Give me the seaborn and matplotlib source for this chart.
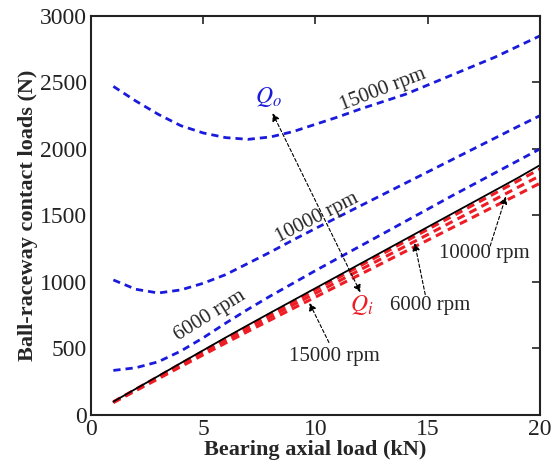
import matplotlib
matplotlib.use("Agg")
import matplotlib.pyplot as plt
import seaborn as sns
import pandas as pd

# ---- data ----
axial_load_kN = [1, 2, 3, 4, 5, 6, 7, 8, 9, 10, 11, 12, 13, 14, 15, 16, 17, 18, 19, 20]

qo_6000 = [335, 355, 400, 480, 580, 690, 795, 895, 990, 1085, 1178, 1270, 1362, 1455, 1547, 1640, 1730, 1820, 1910, 2000]
qo_10000 = [1015, 945, 917, 940, 990, 1055, 1140, 1225, 1315, 1402, 1487, 1572, 1657, 1742, 1827, 1912, 1997, 2082, 2167, 2250]
qo_15000 = [2470, 2360, 2260, 2175, 2120, 2085, 2072, 2090, 2130, 2185, 2240, 2300, 2355, 2410, 2480, 2550, 2620, 2690, 2770, 2850]

q_static = [100, 197, 293, 390, 486, 582, 676, 769, 861, 953, 1045, 1137, 1229, 1321, 1413, 1505, 1597, 1689, 1781, 1878]

qi_15000 = [99, 194, 289, 385, 480, 574, 667, 759, 850, 941, 1031, 1122, 1213, 1304, 1395, 1485, 1576, 1667, 1758, 1849]
qi_6000 = [96, 189, 281, 374, 467, 559, 649, 738, 827, 915, 1003, 1092, 1180, 1268, 1356, 1445, 1533, 1621, 1710, 1798]
qi_10000 = [93, 183, 272, 363, 452, 541, 629, 715, 801, 886, 972, 1057, 1143, 1229, 1314, 1400, 1485, 1571, 1656, 1742]

x_ticks = [0, 5, 10, 15, 20]
y_ticks = [0, 500, 1000, 1500, 2000, 2500, 3000]

# ---- style ----
sns.set_theme(style="white")
plt.rcParams['font.family'] = ['Liberation Serif', 'DejaVu Serif']
plt.rcParams['mathtext.fontset'] = 'stix'

fig = plt.figure(figsize=(5.51, 4.63), dpi=100)
ax = fig.add_axes([0.165, 0.1037, 0.815, 0.862])

df = pd.DataFrame({"x": axial_load_kN})
blue = "#1a1adc"
red = "#ee1c24"
dash = (0, (2.6, 1.8))

for name, vals in [("qo6", qo_6000), ("qo10", qo_10000), ("qo15", qo_15000)]:
    df[name] = vals
    sns.lineplot(data=df, x="x", y=name, ax=ax, color=blue, linewidth=2.0,
                 linestyle=dash, legend=False)

for name, vals in [("qi15", qi_15000), ("qi6", qi_6000), ("qi10", qi_10000)]:
    df[name] = vals
    sns.lineplot(data=df, x="x", y=name, ax=ax, color=red, linewidth=2.2,
                 linestyle=dash, legend=False)

df["qs"] = q_static
sns.lineplot(data=df, x="x", y="qs", ax=ax, color="black", linewidth=1.3, legend=False)

ax.set_xlim(0, 20)
ax.set_ylim(0, 3000)
ax.set_xticks(x_ticks)
ax.set_yticks(y_ticks)
ax.tick_params(direction="in", length=6, width=1.2, top=True, right=True,
               labelsize=17, colors="#222222", pad=3)
for s in ax.spines.values():
    s.set_color("#222222")
    s.set_linewidth(1.5)

ax.set_xlabel("Bearing axial load (kN)", fontsize=16, fontweight="bold", labelpad=0)
ax.set_ylabel("Ball-raceway contact loads (N)", fontsize=16, fontweight="bold", labelpad=1)

# ---- annotations ----
ax.text(13.0, 2447, "15000 rpm", fontsize=15, rotation=21, ha="center", va="center")
ax.text(10.05, 1480, "10000 rpm", fontsize=15, rotation=27, ha="center", va="center")
ax.text(5.3, 745, "6000 rpm", fontsize=15, rotation=32, ha="center", va="center")

ax.text(7.9, 2390, r"$Q_o$", fontsize=17, color=blue, ha="center", va="center")
ax.text(12.07, 830, r"$Q_i$", fontsize=17, color=red, ha="center", va="center")

ax.text(15.12, 822, "6000 rpm", fontsize=15, ha="center", va="center")
ax.text(17.5, 1212, "10000 rpm", fontsize=15, ha="center", va="center")
ax.text(10.85, 442, "15000 rpm", fontsize=15, ha="center", va="center")

arr = dict(arrowstyle="-|>", color="black", lw=0.8, linestyle=(0, (3, 2)),
           mutation_scale=11, shrinkA=0, shrinkB=0)
ax.annotate("", xy=(8.09, 2268), xytext=(12.0, 922),
            arrowprops=dict(arr, arrowstyle="<|-|>"))
ax.annotate("", xy=(9.73, 842), xytext=(10.6, 545), arrowprops=arr)
ax.annotate("", xy=(14.42, 1292), xytext=(14.89, 905), arrowprops=arr)
ax.annotate("", xy=(18.48, 1642), xytext=(17.78, 1270), arrowprops=arr)

fig.savefig("out.png", dpi=100)
